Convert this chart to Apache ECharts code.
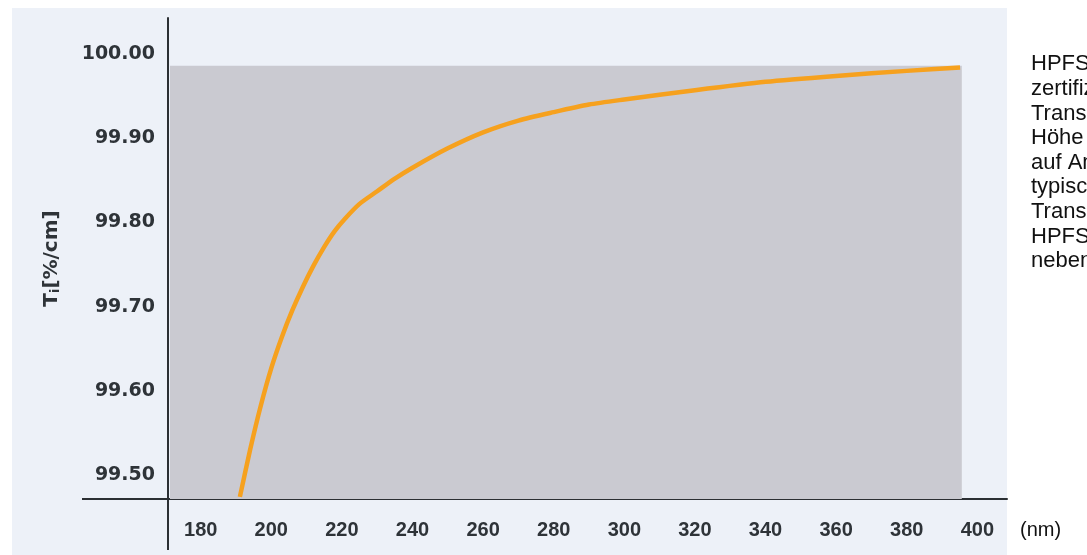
<!DOCTYPE html>
<html><head><meta charset="utf-8">
<script src="https://cdn.jsdelivr.net/npm/echarts@6/dist/echarts.min.js"></script>
<style>html,body{margin:0;padding:0;background:#fff}#c{width:1087px;height:555px}</style>
</head><body><div id="c"></div>
<script>
// Data
const wavelengths = [191.1, 194, 197, 200, 203, 206, 209, 212, 215, 218, 221, 225, 230, 235, 240, 250, 260, 270, 280, 290, 300, 320, 340, 360, 380, 395.1];
const transmission = [99.474, 99.530, 99.582, 99.627, 99.664, 99.696, 99.724, 99.749, 99.771, 99.790, 99.805, 99.822, 99.837, 99.852, 99.865, 99.888, 99.907, 99.921, 99.931, 99.940, 99.946, 99.957, 99.967, 99.974, 99.980, 99.984];
const xTicks = [180, 200, 220, 240, 260, 280, 300, 320, 340, 360, 380, 400];
const yTicks = [99.5, 99.6, 99.7, 99.8, 99.9, 100.0];
const sideText = ['HPFS®', 'zertifiziert', 'Transmission', 'Höhe', 'auf Anfrage', 'typische', 'Transmission', 'HPFS', 'nebenstehend'];
const plotArea = { xFrom: 171.3, xTo: 395.6, yFrom: 99.4715, yTo: 99.986 };

const chart = echarts.init(document.getElementById('c'), null, { renderer: 'canvas' });
const labelColor = '#2e3338';
const axisColor = '#2b2f33';
const G = { left: 168, right: 80, top: 18, bottom: 56 };

chart.setOption({
  backgroundColor: '#ffffff',
  animation: false,
  grid: { left: G.left, right: G.right, top: G.top, bottom: G.bottom, containLabel: false },
  xAxis: {
    type: 'value', min: 170.74, max: 408.4,
    axisLine: { show: true, lineStyle: { color: axisColor, width: 2 } },
    axisTick: { show: false },
    splitLine: { show: false },
    axisLabel: {
      customValues: xTicks, margin: 21,
      color: labelColor, fontFamily: 'Liberation Sans, Arial, sans-serif', fontWeight: 'bold', fontSize: 20
    },
    name: '(nm)', nameLocation: 'end', nameGap: 13,
    nameTextStyle: { color: '#111', fontFamily: 'Liberation Sans, Arial, sans-serif', fontSize: 20, verticalAlign: 'top', padding: [21, 0, 0, 0] }
  },
  yAxis: {
    type: 'value', min: 99.4715, max: 100.0428,
    axisLine: { show: true, lineStyle: { color: axisColor, width: 2 } },
    axisTick: { show: false },
    splitLine: { show: false },
    axisLabel: {
      customValues: yTicks, margin: 13,
      formatter: v => v.toFixed(2),
      color: labelColor, fontFamily: 'DejaVu Sans, sans-serif', fontWeight: 'bold', fontSize: 19
    },
    name: '{t|T}{s|i}{t|[%/cm]}', nameLocation: 'middle', nameGap: 106, nameRotate: 90,
    nameTextStyle: {
      padding: [0, 0, 0, 0],
      rich: {
        t: { fontFamily: 'DejaVu Sans, sans-serif', fontWeight: 'bold', fontSize: 20, color: labelColor },
        s: { fontFamily: 'DejaVu Sans, sans-serif', fontWeight: 'bold', fontSize: 13, color: labelColor, verticalAlign: 'bottom', padding: [8, 0, 0, 0] }
      }
    }
  },
  series: [{
    type: 'line',
    data: wavelengths.map((w, i) => [w, transmission[i]]),
    smooth: 0.25,
    showSymbol: false,
    clip: true,
    lineStyle: { color: '#f6a11e', width: 4.5 },
    markArea: {
      silent: true,
      itemStyle: { color: '#cacad1' },
      data: [[{ xAxis: plotArea.xFrom, yAxis: plotArea.yFrom }, { xAxis: plotArea.xTo, yAxis: plotArea.yTo }]]
    },
    z: 3
  }]
});

// decorative background (scanned page area), axis-line extensions and side text
const H = 555;
const axisX = G.left, axisY = H - G.bottom;
chart.setOption({
  graphic: [
    { type: 'rect', z: -10, silent: true, shape: { x: 12, y: 8, width: 1007 - 12, height: H - 8 }, style: { fill: '#edf1f8' } },
    { type: 'line', z: 10, silent: true, shape: { x1: 82, y1: axisY, x2: axisX, y2: axisY }, style: { stroke: axisColor, lineWidth: 2 } },
    { type: 'line', z: 10, silent: true, shape: { x1: axisX, y1: axisY, x2: axisX, y2: 550 }, style: { stroke: axisColor, lineWidth: 2 } },
    { type: 'text', z: 10, silent: true, left: 1031, top: 52,
      style: { text: sideText.join('\n'), fill: '#111', font: '22px "Liberation Sans", Arial, sans-serif', lineHeight: 24.6 } }
  ]
});
</script></body></html>
